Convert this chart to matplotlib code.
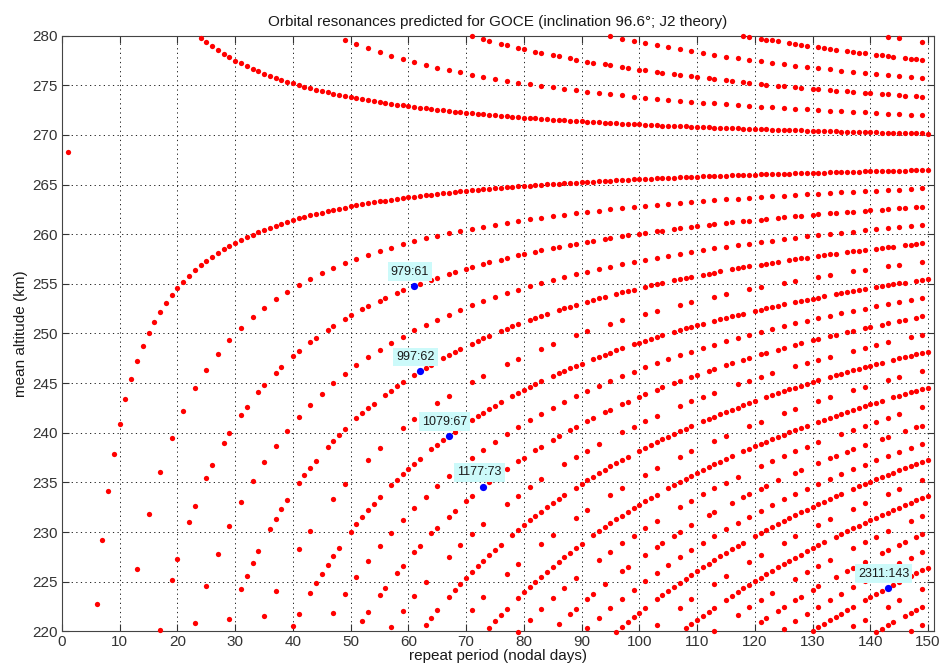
import numpy as np
import matplotlib
matplotlib.use('Agg')
import matplotlib.pyplot as plt

# resonance N:D -> N revolutions in D nodal days, altitude from J2 theory
# (reference altitude of the 16 rev/day orbit and the slope)
R_earth = 6378.137      # km
alt_16 = 268.3          # km, the 16:1 point at day 1
r_16 = 16.0             # revs per nodal day
expo = 0.663            # d ln a / d ln r  (~1/1.51 with J2 node drift)

repeat_days = np.arange(1, 151)
alt_min, alt_max = 220.0, 280.0

# labelled orbits (revs:days)
labels = ['979:61', '997:62', '1079:67', '1177:73', '2311:143']


def altitude(revs, days):
    r = np.asarray(revs, float) / np.asarray(days, float)
    a = (R_earth + alt_16) * (r_16 / r) ** expo
    return a - R_earth


# all reduced resonances that land inside the plotted altitude band
xs, ys = [], []
for d in repeat_days:
    for n in range(int(15.8 * d), int(16.3 * d) + 2):
        if np.gcd(n, d) != 1:
            continue
        h = altitude(n, d)
        if alt_min - 0.1 <= h <= alt_max:
            xs.append(d)
            ys.append(h)
xs = np.array(xs)
ys = np.array(ys)

lab_n = [int(s.split(':')[0]) for s in labels]
lab_d = [int(s.split(':')[1]) for s in labels]
lab_h = altitude(lab_n, lab_d)

plt.rcParams['font.family'] = ['Liberation Sans', 'DejaVu Sans']

fig = plt.figure(figsize=(9.42, 6.72), dpi=100)
ax = fig.add_axes([0.0658, 0.0606, 0.9255, 0.8863])

ax.plot(xs, ys, 'o', color='#ff0000', ms=3.8, mec='none', clip_on=False, zorder=3)
ax.plot(lab_d, lab_h, 'o', color='#0000ff', ms=5.2, mec='none', clip_on=False, zorder=4)
for s, d, h in zip(labels, lab_d, lab_h):
    ax.annotate(s, (d, h), xytext=(-3, 6), textcoords='offset points',
                ha='center', va='bottom', fontsize=9, color='#1a1a1a',
                bbox=dict(boxstyle='square,pad=0.25', fc='#ccfafa', ec='none'),
                zorder=5)

ax.set_xlim(0, 151)
ax.set_ylim(alt_min, alt_max)
ax.set_xticks(np.arange(0, 151, 10))
ax.set_yticks(np.arange(220, 281, 5))
ax.grid(True, color='#000000', linestyle=(0, (1.5, 4)), linewidth=0.6)
ax.tick_params(direction='in', length=5, width=0.8, top=True, right=True,
               labelsize=11, colors='#333333', pad=3)
for sp in ax.spines.values():
    sp.set_color('#444444')
    sp.set_linewidth(0.8)

ax.set_title('Orbital resonances predicted for GOCE (inclination 96.6°; J2 theory)',
             fontsize=11, color='#1a1a1a', pad=7)
ax.set_xlabel('repeat period (nodal days)', fontsize=11, color='#1a1a1a', labelpad=0)
ax.set_ylabel('mean altitude (km)', fontsize=11, color='#1a1a1a', labelpad=3)

fig.savefig('out.png', dpi=100, facecolor='white')
